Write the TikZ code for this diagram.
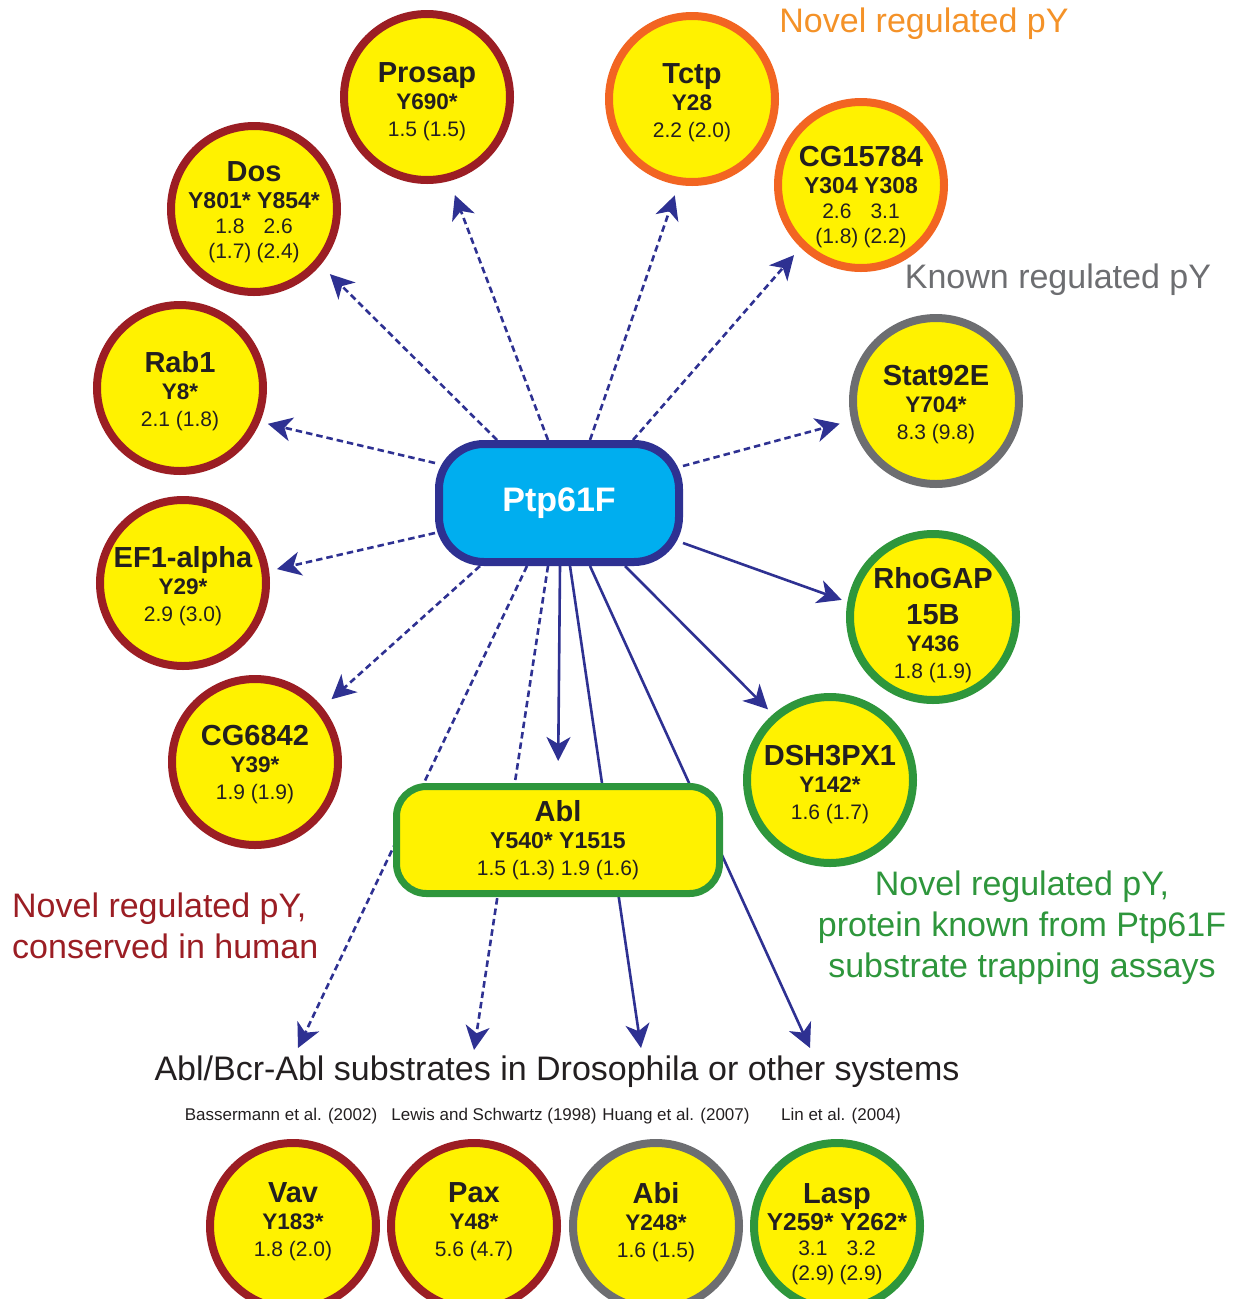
\documentclass[tikz,border=0pt]{standalone}
\usepackage{fontspec}
\setmainfont{Liberation Sans}
\usetikzlibrary{arrows.meta,calc,backgrounds}
\definecolor{dred}{RGB}{155,30,36}
\definecolor{orng}{RGB}{242,101,34}
\definecolor{orlab}{RGB}{244,146,40}
\definecolor{gry}{RGB}{109,110,113}
\definecolor{grn}{RGB}{46,150,60}
\definecolor{ylw}{RGB}{255,242,0}
\definecolor{blu}{RGB}{46,49,146}
\definecolor{cyn}{RGB}{0,174,239}
\definecolor{txt}{RGB}{35,31,32}
\newcommand{\pname}[2][29]{{\fontsize{#1}{#1}\selectfont\bfseries #2}}
\newcommand{\psite}[2][22.5]{{\fontsize{#1}{#1}\selectfont\bfseries #2}}
\newcommand{\pcol}[1]{\makebox[2.3em]{#1}}
\tikzset{
  prot/.style={circle, fill=ylw, line width=8pt, minimum size=166pt, inner sep=0pt},
  ptxt/.style={align=center, text=txt, inner sep=0pt, font=\fontsize{21}{27}\selectfont},
  hub/.style={rounded corners=45pt, fill=cyn, draw=blu, line width=8pt,
    minimum width=240pt, minimum height=118pt, text=white,
    font=\fontsize{34}{34}\selectfont\bfseries},
  ablbox/.style={rounded corners=30pt, fill=ylw, draw=grn, line width=7pt,
    minimum width=323pt, minimum height=107pt, align=center, text=txt,
    font=\fontsize{21}{27}\selectfont},
  arr/.style={draw=blu, line width=2.6pt, -{Stealth[length=24pt,width=24pt,inset=7pt]}},
  darr/.style={arr, dash pattern=on 6.5pt off 4pt},
  biglab/.style={font=\fontsize{34}{41}\selectfont, inner sep=0pt},
  reflab/.style={font=\fontsize{17}{17}\selectfont, text=txt, inner sep=0pt},
}
\begin{document}
\begin{tikzpicture}[x=1pt,y=-1pt]
\useasboundingbox (0,0) rectangle (1239,1299);
% hub
\node[hub] (ptp) at (559,503) {Ptp61F};
% protein circles
\node[prot, draw=dred] (prosap) at (427,97) {};
\node[prot, draw=orng] (tctp) at (692,99) {};
\node[prot, draw=dred] (dos) at (254,209) {};
\node[prot, draw=orng] (cg15784) at (861,185) {};
\node[prot, draw=dred] (rab1) at (180,388) {};
\node[prot, draw=gry] (stat) at (936,401) {};
\node[prot, draw=dred] (ef1) at (183,583) {};
\node[prot, draw=grn] (rhogap) at (933,617) {};
\node[prot, draw=dred] (cg6842) at (255,762) {};
\node[prot, draw=grn] (dsh) at (830,780) {};
\node[prot, draw=dred] (vav) at (293,1226) {};
\node[prot, draw=dred] (pax) at (474,1226) {};
\node[prot, draw=gry] (abi) at (656,1226) {};
\node[prot, draw=grn] (lasp) at (837,1226) {};
% protein texts
\node[ptxt, yshift=-5pt] (prosap-t) at (prosap) {\pname{Prosap}\\\psite{Y690*}\\1.5 (1.5)};
\node[ptxt, yshift=-4pt] (tctp-t) at (tctp) {\pname{Tctp}\\\psite{Y28}\\2.2 (2.0)};
\node[ptxt, yshift=-3pt] (dos-t) at (dos) {\pname{Dos}\\\psite[23]{Y801* Y854*}\\[-2pt]\pcol{1.8}\pcol{2.6}\\[-2pt]\pcol{(1.7)}\pcol{(2.4)}};
\node[ptxt, yshift=-12pt] (cg15784-t) at (cg15784) {\pname{CG15784}\\\psite[23]{Y304 Y308}\\[-2pt]\pcol{2.6}\pcol{3.1}\\[-2pt]\pcol{(1.8)}\pcol{(2.2)}};
\node[ptxt, yshift=-3pt] (rab1-t) at (rab1) {\pname{Rab1}\\\psite{Y8*}\\2.1 (1.8)};
\node[ptxt, yshift=-4pt] (stat-t) at (stat) {\pname{Stat92E}\\\psite{Y704*}\\8.3 (9.8)};
\node[ptxt, yshift=-3pt] (ef1-t) at (ef1) {\pname{EF1-alpha}\\\psite{Y29*}\\2.9 (3.0)};
\node[ptxt, yshift=-8pt] (rhogap-t) at (rhogap) {\pname{RhoGAP}\\[9pt]\pname{15B}\\\psite{Y436}\\1.8 (1.9)};
\node[ptxt, yshift=-3pt] (cg6842-t) at (cg6842) {\pname{CG6842}\\\psite{Y39*}\\1.9 (1.9)};
\node[ptxt, yshift=-5pt] (dsh-t) at (dsh) {\pname{DSH3PX1}\\\psite{Y142*}\\1.6 (1.7)};
\node[ptxt, yshift=4pt] (vav-t) at (vav) {\pname{Vav}\\\psite{Y183*}\\1.8 (2.0)};
\node[ptxt, yshift=4pt] (pax-t) at (pax) {\pname{Pax}\\\psite{Y48*}\\5.6 (4.7)};
\node[ptxt, yshift=4pt] (abi-t) at (abi) {\pname{Abi}\\\psite{Y248*}\\1.6 (1.5)};
\node[ptxt, yshift=-8pt] (lasp-t) at (lasp) {\pname{Lasp}\\\psite[24.5]{Y259* Y262*}\\[-2pt]\pcol{3.1}\pcol{3.2}\\[-2pt]\pcol{(2.9)}\pcol{(2.9)}};
% Abl box
\node[ablbox] (abl) at (558,840) {\pname{Abl}\\\psite[23]{Y540* Y1515}\\1.5 (1.3) 1.9 (1.6)};
% free ends of the substrate arrows
\coordinate (evav) at (298,1048);
\coordinate (epax) at (474,1050);
\coordinate (eabi) at (641,1048);
\coordinate (elasp) at (810,1048);
% labels
\node[biglab, text=orlab] (lnovel) at (924,24) {Novel regulated pY};
\node[biglab, text=gry] (lknown) at (1058,280) {Known regulated pY};
\node[biglab, text=dred, align=left, anchor=west] (lcons) at (12,926) {Novel regulated pY,\\conserved in human};
\node[biglab, text=grn, align=center] (lprot) at (1022,928) {Novel regulated pY,\\protein known from Ptp61F\\substrate trapping assays};
\node[biglab, text=txt] (lsub) at (557,1072) {Abl/Bcr-Abl substrates in Drosophila or other systems};
\node[reflab] (r1) at (281,1116) {Bassermann et al. (2002)};
\node[reflab] (r2) at (494,1116) {Lewis and Schwartz (1998)};
\node[reflab] (r3) at (676,1116) {Huang et al. (2007)};
\node[reflab] (r4) at (841,1116) {Lin et al. (2004)};
% connectors
\begin{pgfonlayer}{background}
\draw[darr, shorten >=15pt] ($(ptp.north)+(-11,0)$) -- (prosap.-75);
\draw[darr, shorten >=11pt] ($(ptp.north)+(31,0)$) -- (tctp.-99.5);
\draw[darr, shorten >=13pt] ($(ptp.north)+(-62,0)$) -- (dos.-40);
\draw[darr, shorten >=10pt] ($(ptp.north)+(74,0)$) -- (cg15784.-134.6);
\draw[darr, shorten >=8pt] ($(ptp.west)+(0,-40)$) -- (rab1.-23.5);
\draw[darr, shorten >=12pt] ($(ptp.east)+(0,-37)$) -- (stat.-167);
\draw[darr, shorten >=8pt] ($(ptp.west)+(0,30)$) -- (ef1.8);
\draw[arr, shorten >=6pt] ($(ptp.east)+(0,40)$) -- (rhogap.170);
\draw[darr, shorten >=12pt] ($(ptp.south)+(-79,0)$) -- (cg6842.39.6);
\draw[arr, shorten >=7pt] ($(ptp.south)+(66,0)$) -- (dsh.131.4);
\draw[arr, shorten >=22pt] ($(ptp.south)+(1,0)$) -- (abl.north);
\draw[darr] ($(ptp.south)+(-32,0)$) -- (evav);
\draw[darr] ($(ptp.south)+(-11,0)$) -- (epax);
\draw[arr] ($(ptp.south)+(11,0)$) -- (eabi);
\draw[arr] ($(ptp.south)+(31,0)$) -- (elasp);
\end{pgfonlayer}
\end{tikzpicture}
\end{document}
